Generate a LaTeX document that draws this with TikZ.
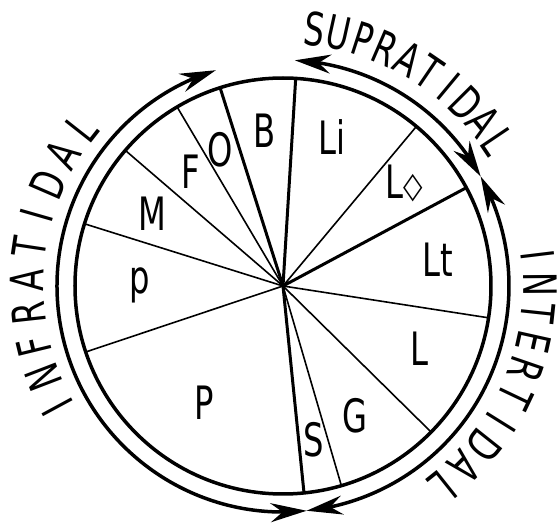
\documentclass[tikz,border=0pt]{standalone}
\usepackage{fontspec}
\setmainfont{DejaVu Sans}[FakeStretch=0.7]
\usetikzlibrary{arrows.meta,bending}

\begin{document}
\begin{tikzpicture}[
        x=1pt, y=1pt,
        zone/.style={
            inner sep=0pt,
            font=\fontsize{46}{46}\selectfont
        },
        rim/.style={line width=3.5pt},
        tide/.style={
            line width=3.5pt,
            {Stealth[length=36pt,width=19pt,inset=12pt]}-{Stealth[length=36pt,width=19pt,inset=12pt]}
        },
        thinray/.style={line width=1.6pt},
        thickray/.style={line width=3pt}
    ]

    \useasboundingbox (-283,-244) rectangle (275,286);
    \coordinate (c) at (0,0);

    \draw[rim] (c) circle[radius=208pt];

    \foreach \a in {120.6,139.3,162.6,198.5,286.3,315.4,351.2,50.1}
        \draw[thinray] (c) -- (\a:208pt);
    \foreach \a in {86.5,107.6,275.8,28.2}
        \draw[thickray] (c) -- (\a:208pt);

    \coordinate (infratop) at (107.3:226pt);
    \coordinate (supratop) at (87:226pt);
    \coordinate (right) at (29:226pt);
    \coordinate (bottom) at (276:226pt);

    \draw[tide] (bottom) arc[start angle=276, end angle=107.3, radius=226pt];
    \draw[tide] (supratop) arc[start angle=87, end angle=29, radius=226pt];
    \draw[tide] (right) arc[start angle=29, end angle=-84, radius=226pt];

    \node[zone] (b) at (-18,155) {B};
    \node[zone] (li) at (49,149) {Li};
    \node[zone] (lo) at (121,103) {L\raisebox{1pt}{\fontsize{36}{36}\selectfont ◇}};
    \node[zone] (lt) at (155,26) {Lt};
    \node[zone] (l) at (136,-63) {L};
    \node[zone] (g) at (72,-130) {G};
    \node[zone] (s) at (31,-154) {S};
    \node[zone] (bigp) at (-79,-117) {P};
    \node[zone] (smallp) at (-143,1) {p};
    \node[zone] (m) at (-131,72) {M};
    \node[zone] (f) at (-92,114) {F};
    \node[zone] (o) at (-63,136) {O};

    \foreach \ch [count=\i] in {I,N,F,R,A,T,I,D,A,L}{
        \pgfmathsetmacro\a{208.4-(\i-1)*7.4}
        \node[zone, rotate=\a-90] (infra\i) at (\a:256pt) {\ch};
    }
    \foreach \ch [count=\i] in {S,U,P,R,A,T,I,D,A,L}{
        \pgfmathsetmacro\a{83-(\i-1)*5.45}
        \node[zone, rotate=\a-90] (supra\i) at (\a:259pt) {\ch};
    }
    \foreach \ch [count=\i] in {I,N,T,E,R,T,I,D,A,L}{
        \pgfmathsetmacro\a{6.9-(\i-1)*6.48}
        \node[zone, rotate=\a-90] (inter\i) at (\a:257pt) {\ch};
    }

\end{tikzpicture}
\end{document}
